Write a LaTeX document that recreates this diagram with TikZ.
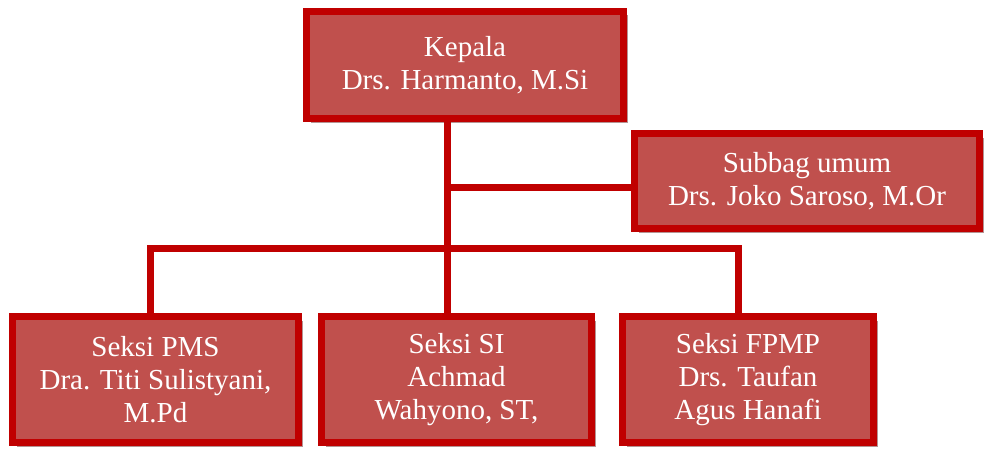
\documentclass[tikz,border=0pt]{standalone}
\usepackage{fontspec}
\setmainfont{Liberation Serif}
\usepackage{tikz}
\usetikzlibrary{shadows}

\definecolor{isian}{RGB}{192,80,77}
\definecolor{tepi}{RGB}{192,0,0}
\definecolor{bayang}{RGB}{180,148,148}

\tikzset{
    kotak/.style={rectangle, draw=tepi, fill=isian, line width=7pt,
        text=white, align=center, inner sep=0pt,
        font=\fontsize{29}{33}\selectfont,
        general shadow={fill=bayang, shadow xshift=4pt, shadow yshift=-4pt}},
    garis/.style={draw=tepi, line width=7pt}
}

\begin{document}
\begin{tikzpicture}[x=1pt,y=-1pt]
        \useasboundingbox (0,0) rectangle (984,452);
        \node[kotak, minimum width=317pt, minimum height=107pt] (kepala) at (465,65)
            {Kepala\\Drs. Harmanto, M.Si};
        \node[kotak, minimum width=345pt, minimum height=95pt] (subbag) at (807,181)
            {Subbag umum\\Drs. Joko Saroso, M.Or};
        \node[kotak, minimum width=286pt, minimum height=126pt] (pms) at (155.5,379.5)
            {Seksi PMS\\Dra. Titi Sulistyani,\\M.Pd};
        \node[kotak, minimum width=270pt, minimum height=126pt] (si) at (456.5,379.5)
            {Seksi SI\\Achmad\\Wahyono, ST,};
        \node[kotak, minimum width=251pt, minimum height=126pt] (fpmp) at (748,379.5)
            {Seksi FPMP\\Drs. Taufan\\Agus Hanafi};

        \coordinate (cabang) at (447,248);
        \coordinate (kiri) at (150,248);
        \coordinate (kanan) at (738,248);
        \coordinate (kesubbag) at (447,187);

        \draw[garis] (kepala.south -| cabang) -- (si.north -| cabang);
        \draw[garis] (kesubbag) -- (kesubbag -| subbag.west);
        \draw[garis] (pms.north -| kiri) |- (kanan) -- (fpmp.north -| kanan);
    \end{tikzpicture}
\end{document}
